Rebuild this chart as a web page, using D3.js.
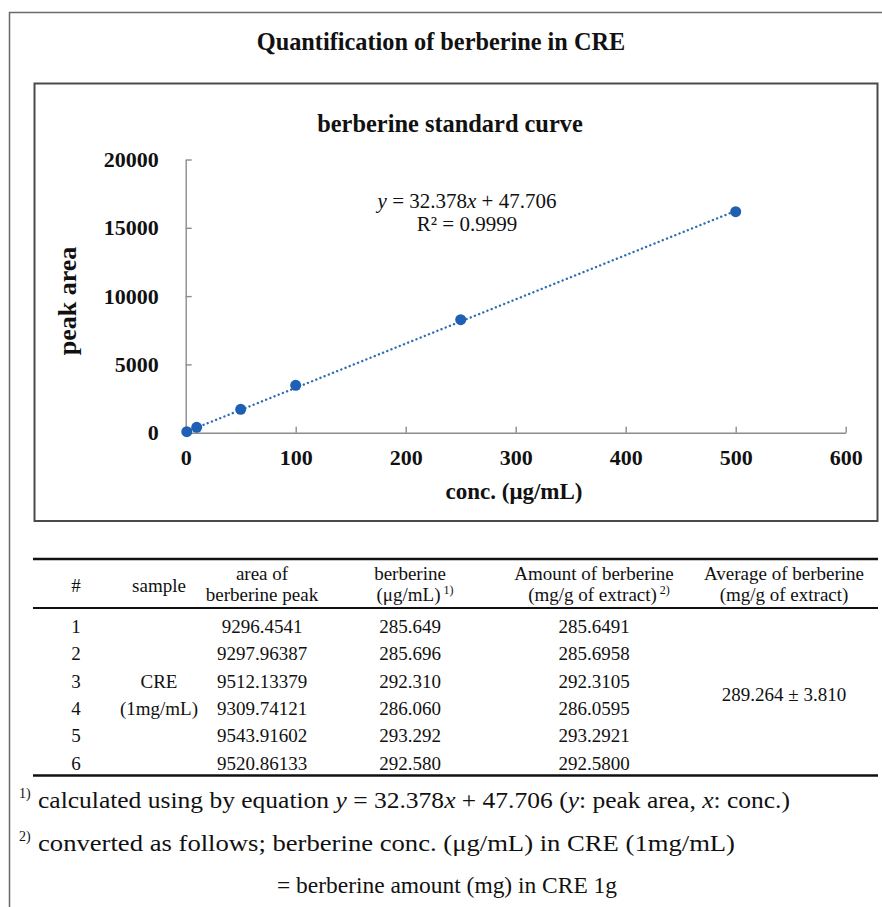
<!DOCTYPE html>
<html>
<head>
<meta charset="utf-8">
<script src="https://cdn.jsdelivr.net/npm/d3@7"></script>
<style>
  html,body{margin:0;padding:0;background:#fff}
  svg{display:block}
  text{font-family:'Liberation Serif','Times New Roman',serif;fill:#111}
</style>
</head>
<body>
<svg id="fig" width="882" height="907"></svg>
<script>
// standard curve points
const concValues = [1, 10, 50, 100, 250, 500];
const peakAreas = [75, 395, 1710, 3470, 8270, 16180];
const slope = 32.378, intercept = 47.706, rSquared = '0.9999';
const xTicks = [0, 100, 200, 300, 400, 500, 600];
const yTicks = [0, 5000, 10000, 15000, 20000];

// table
const headerTop = ['#', 'sample', 'area of', 'berberine', 'Amount of berberine', 'Average of berberine'];
const headerBottom = ['', '', 'berberine peak', '(μg/mL)', '(mg/g of extract)', '(mg/g of extract)'];
const headerSup = ['', '', '', '1)', '2)', ''];
const sampleIds = ['1', '2', '3', '4', '5', '6'];
const areaValues = ['9296.4541', '9297.96387', '9512.13379', '9309.74121', '9543.91602', '9520.86133'];
const concResults = ['285.649', '285.696', '292.310', '286.060', '293.292', '292.580'];
const amountResults = ['285.6491', '285.6958', '292.3105', '286.0595', '293.2921', '292.5800'];
const sampleLabel = ['CRE', '(1mg/mL)'];
const averageText = '289.264 ± 3.810';

const svg = d3.select('#fig');

// frames
svg.append('path').attr('d', 'M9.5,907V12.5H882').attr('fill', 'none').attr('stroke', '#6a6a6a').attr('stroke-width', 1.5);
svg.append('rect').attr('x', 34.5).attr('y', 83.5).attr('width', 843).attr('height', 437.5)
  .attr('fill', 'none').attr('stroke', '#4a4a4a').attr('stroke-width', 2);

svg.append('text').attr('x', 441).attr('y', 50).attr('text-anchor', 'middle')
  .style('font-size', '24.3px').style('font-weight', 'bold').text('Quantification of berberine in CRE');

/* ── standard curve ── */
const x = d3.scaleLinear().domain([0, 600]).range([185.7, 845.7]);
const y = d3.scaleLinear().domain([0, 20000]).range([432.7, 159.5]);

svg.append('text').attr('x', 450).attr('y', 132).attr('text-anchor', 'middle')
  .style('font-size', '24.4px').style('font-weight', 'bold').text('berberine standard curve');

const gx = svg.append('g').attr('transform', `translate(0,${y(0)})`)
  .call(d3.axisBottom(x).tickValues(xTicks).tickSizeInner(-6).tickSizeOuter(0).tickPadding(17));
const gy = svg.append('g').attr('transform', `translate(${x(0)},0)`)
  .call(d3.axisLeft(y).tickValues(yTicks).tickSizeInner(-6).tickSizeOuter(0).tickPadding(27).tickFormat(d3.format('d')));
[gx, gy].forEach(g => {
  g.select('.domain').attr('stroke', '#8c8c8c').attr('stroke-width', 1.4);
  g.selectAll('.tick line').attr('stroke', '#8c8c8c').attr('stroke-width', 1.4);
  g.selectAll('.tick text').attr('fill', '#111')
    .style('font-family', "'Liberation Serif','Times New Roman',serif")
    .style('font-size', '22px').style('font-weight', 'bold');
});

svg.append('text').attr('transform', 'translate(67,301) rotate(-90)').attr('text-anchor', 'middle')
  .attr('dominant-baseline', 'central')
  .style('font-size', '26px').style('font-weight', 'bold').text('peak area');
svg.append('text').attr('x', 514).attr('y', 499).attr('text-anchor', 'middle')
  .style('font-size', '23px').style('font-weight', 'bold').text('conc. (μg/mL)');

// linear trendline over the data range
const xr = d3.extent(concValues);
svg.append('line')
  .attr('x1', x(xr[0])).attr('y1', y(slope * xr[0] + intercept))
  .attr('x2', x(xr[1])).attr('y2', y(slope * xr[1] + intercept))
  .attr('stroke', '#2f6db3').attr('stroke-width', 2.4)
  .attr('stroke-linecap', 'round').attr('stroke-dasharray', '0.1,4.4');

svg.selectAll('.pt').data(concValues).enter().append('circle')
  .attr('cx', d => x(d)).attr('cy', (d, i) => y(peakAreas[i])).attr('r', 5.5)
  .attr('fill', '#1f5fb4');

const eq = svg.append('text').attr('x', 467).attr('y', 208).attr('text-anchor', 'middle').style('font-size', '21px');
eq.append('tspan').style('font-style', 'italic').text('y');
eq.append('tspan').text(` = ${slope}`);
eq.append('tspan').style('font-style', 'italic').text('x');
eq.append('tspan').text(` + ${intercept}`);
svg.append('text').attr('x', 467).attr('y', 231).attr('text-anchor', 'middle').style('font-size', '21px')
  .text(`R² = ${rSquared}`);

/* ── result table ── */
const colX = [76, 159, 262, 410, 594, 784];
const rowY = d3.range(6).map(i => 633 + i * 27.3);
[[559, 2.6], [608, 2], [775.5, 2.6]].forEach(([ly, lw]) => {
  svg.append('line').attr('x1', 33).attr('x2', 878).attr('y1', ly).attr('y2', ly)
    .attr('stroke', '#111').attr('stroke-width', lw);
});

headerTop.forEach((h, i) => {
  const two = headerBottom[i] !== '';
  svg.append('text').attr('x', colX[i]).attr('y', two ? 580 : 592).attr('text-anchor', 'middle')
    .style('font-size', '19px').text(h);
  if (!two) return;
  const t = svg.append('text').attr('x', colX[i] + (headerSup[i] ? 5 : 0)).attr('y', 601)
    .attr('text-anchor', 'middle').style('font-size', '19px');
  t.append('tspan').text(headerBottom[i]);
  if (headerSup[i]) t.append('tspan').attr('dx', 3).attr('dy', -7).style('font-size', '12px').text(headerSup[i]);
});

const cols = [sampleIds, null, areaValues, concResults, amountResults];
cols.forEach((vals, c) => {
  if (!vals) return;
  vals.forEach((v, r) => {
    svg.append('text').attr('x', colX[c]).attr('y', rowY[r]).attr('text-anchor', 'middle')
      .style('font-size', '19px').text(v);
  });
});
sampleLabel.forEach((s, i) => {
  svg.append('text').attr('x', colX[1]).attr('y', rowY[2 + i]).attr('text-anchor', 'middle')
    .style('font-size', '19px').text(s);
});
svg.append('text').attr('x', colX[5]).attr('y', (rowY[2] + rowY[3]) / 2).attr('text-anchor', 'middle')
  .style('font-size', '19px').text(averageText);

/* ── footnotes ── */
const sup = (n, yy) => svg.append('text').attr('x', 19).attr('y', yy - 10).style('font-size', '14px').text(n);
sup('1)', 808);
const f1 = svg.append('text').attr('x', 38).attr('y', 808).style('font-size', '23px')
  .attr('textLength', 752).attr('lengthAdjust', 'spacingAndGlyphs');
f1.append('tspan').text('calculated using by equation ');
f1.append('tspan').style('font-style', 'italic').text('y');
f1.append('tspan').text(` = ${slope}`);
f1.append('tspan').style('font-style', 'italic').text('x');
f1.append('tspan').text(` + ${intercept} (`);
f1.append('tspan').style('font-style', 'italic').text('y');
f1.append('tspan').text(': peak area, ');
f1.append('tspan').style('font-style', 'italic').text('x');
f1.append('tspan').text(': conc.)');

sup('2)', 851);
svg.append('text').attr('x', 38).attr('y', 851).style('font-size', '23px')
  .attr('textLength', 697).attr('lengthAdjust', 'spacingAndGlyphs')
  .text('converted as follows; berberine conc. (μg/mL) in CRE (1mg/mL)');
svg.append('text').attr('x', 447).attr('y', 893).attr('text-anchor', 'middle').style('font-size', '23px')
  .attr('textLength', 340).attr('lengthAdjust', 'spacingAndGlyphs')
  .text('= berberine amount (mg) in CRE 1g');
</script>
</body>
</html>
